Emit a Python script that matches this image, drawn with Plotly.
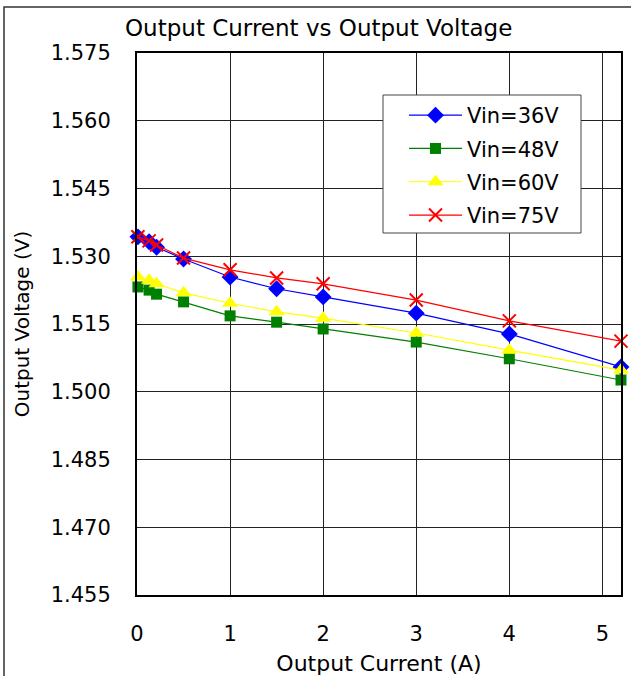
import plotly.graph_objects as go

current = [0.01, 0.13, 0.21, 0.5, 1, 1.5, 2, 3, 4, 5.2]

v36 = [1.5343, 1.5332, 1.5320, 1.5294, 1.5254, 1.5228, 1.5210, 1.5174, 1.5128, 1.5055]
v48 = [1.5232, 1.5225, 1.5216, 1.5199, 1.5168, 1.5154, 1.5139, 1.5110, 1.5073, 1.5026]
v60 = [1.5254, 1.5247, 1.5239, 1.5219, 1.5196, 1.5177, 1.5163, 1.5130, 1.5092, 1.5048]
v75 = [1.5343, 1.5334, 1.5325, 1.5296, 1.5270, 1.5252, 1.5239, 1.5203, 1.5157, 1.5112]

names = ["Vin=36V", "Vin=48V", "Vin=60V", "Vin=75V"]
series = [v36, v48, v60, v75]
colors = ["#0000FF", "#008000", "#FFFF00", "#FF0000"]
symbols = ["diamond", "square", "triangle-up", "x-thin-open"]
sizes = [13, 11, 14, 13]

y_ticks = [1.455, 1.470, 1.485, 1.500, 1.515, 1.530, 1.545, 1.560, 1.575]
x_ticks = [0, 1, 2, 3, 4, 5]

sans = "DejaVu Sans"
PL, PR, PT, PB = 137, 621, 53, 595
PW, PH = PR - PL, PB - PT


def px(x):
    return (x - PL) / PW


def py(y):
    return (PB - y) / PH


fig = go.Figure()
for i, (name, vals, c, s, sz) in enumerate(zip(names, series, colors, symbols, sizes)):
    marker = dict(symbol=s, size=sz, color=c)
    if s == "x-thin-open":
        marker["line"] = dict(color=c, width=2)
    else:
        marker["line"] = dict(width=0)
    fig.add_trace(go.Scatter(x=current, y=vals, mode="lines+markers", name=name,
                             legendgroup=f"g{i}",
                             line=dict(color=c, width=1.2), marker=marker,
                             cliponaxis=False))

fig.update_layout(
    width=631, height=676,
    margin=dict(l=PL, r=631 - PR, t=PT, b=676 - PB),
    paper_bgcolor="white", plot_bgcolor="white",
    showlegend=True,
    title=dict(text="Output Current vs Output Voltage", x=0.505, xanchor="center",
               y=1 - 28 / 676, yanchor="middle",
               font=dict(family=sans, size=23, color="black")),
    legend=dict(x=px(404), y=py(95), xanchor="left", yanchor="top",
                bgcolor="rgba(0,0,0,0)", borderwidth=0,
                font=dict(family=sans, size=21, color="black"),
                itemsizing="trace", tracegroupgap=3, itemwidth=53),
    font=dict(family=sans, color="black"),
)
fig.update_xaxes(range=[0, 5.2], tickvals=x_ticks, showgrid=True, gridcolor="#222", gridwidth=1,
                 showline=True, linecolor="black", linewidth=2, mirror=True, zeroline=False,
                 ticks="", tickfont=dict(size=21, family=sans), ticklabelstandoff=19,
                 automargin=False,
                 title=dict(text="Output Current (A)", font=dict(family=sans, size=22), standoff=10))
fig.update_yaxes(range=[1.455, 1.575], tickvals=y_ticks, tickformat=".3f", showgrid=True,
                 gridcolor="#222", gridwidth=1,
                 showline=True, linecolor="black", linewidth=2, mirror=True, zeroline=False,
                 ticks="", tickfont=dict(size=21, family=sans), ticklabelstandoff=20,
                 automargin=False,
                 title=dict(text="Output Voltage (V)", font=dict(family=sans, size=20), standoff=16))

# outer chart border
fig.add_shape(type="rect", xref="paper", yref="paper",
              x0=px(4), x1=px(640), y0=py(690), y1=py(7),
              line=dict(color="#333", width=1.5), fillcolor="rgba(0,0,0,0)", layer="below")
# legend box
fig.add_shape(type="rect", xref="paper", yref="paper",
              x0=px(383), x1=px(581), y0=py(233), y1=py(95),
              line=dict(color="#444", width=1), fillcolor="white", layer="above")

fig.write_html("out.html", post_script="document.body.style.margin='0';",
               config={"displayModeBar": False})
